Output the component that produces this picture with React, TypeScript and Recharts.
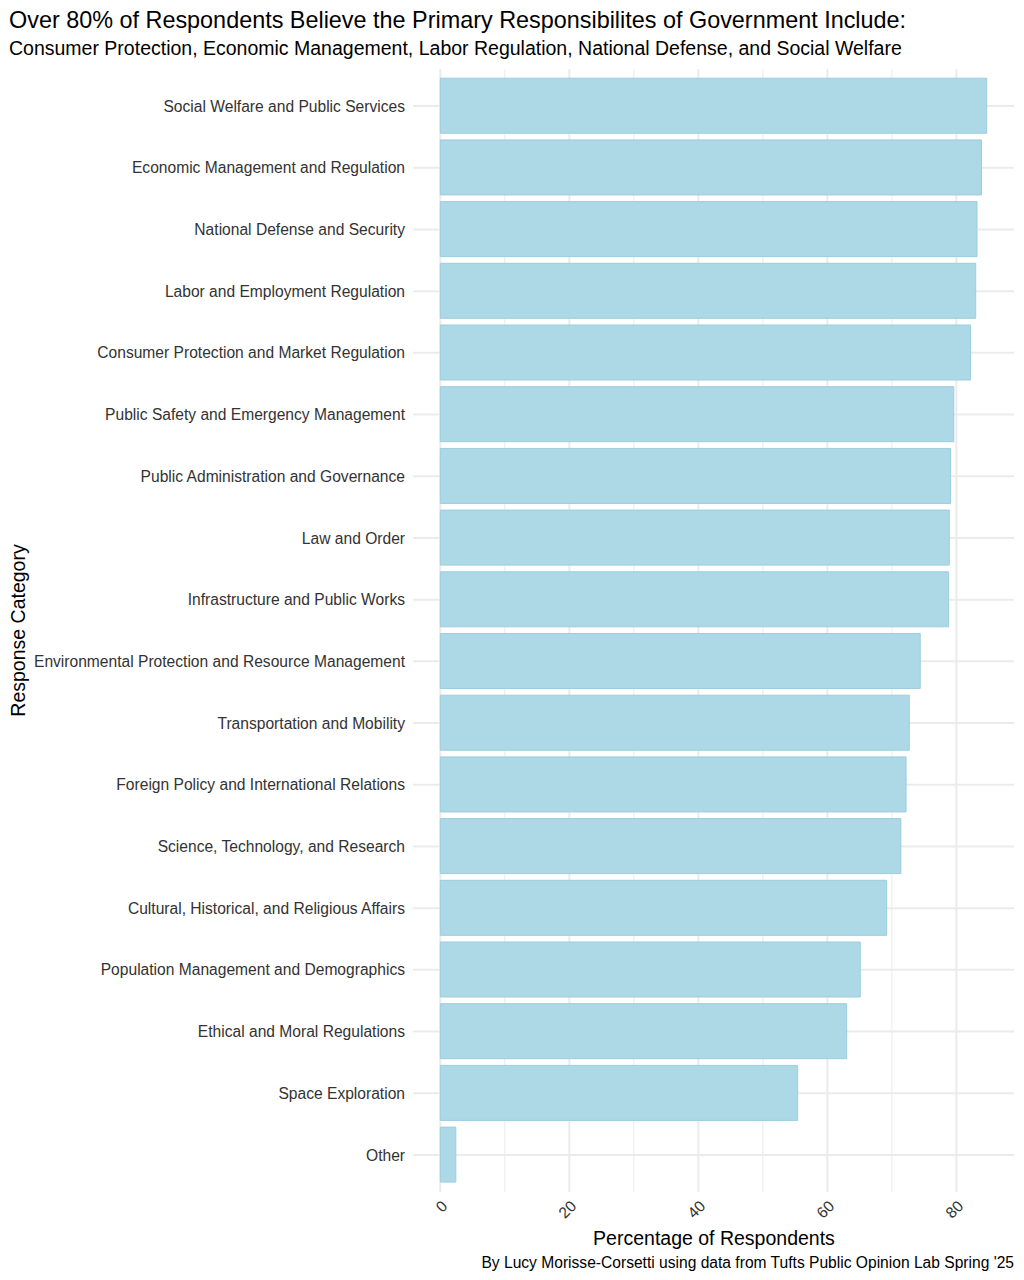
import React from "react";
import { BarChart, Bar, XAxis, YAxis, CartesianGrid } from "recharts";

const categories = [
  "Social Welfare and Public Services",
  "Economic Management and Regulation",
  "National Defense and Security",
  "Labor and Employment Regulation",
  "Consumer Protection and Market Regulation",
  "Public Safety and Emergency Management",
  "Public Administration and Governance",
  "Law and Order",
  "Infrastructure and Public Works",
  "Environmental Protection and Resource Management",
  "Transportation and Mobility",
  "Foreign Policy and International Relations",
  "Science, Technology, and Research",
  "Cultural, Historical, and Religious Affairs",
  "Population Management and Demographics",
  "Ethical and Moral Regulations",
  "Space Exploration",
  "Other",
];

const percentages = [
  84.7, 83.9, 83.2, 83.0, 82.2, 79.6, 79.1, 78.9, 78.8, 74.4, 72.7, 72.2, 71.4,
  69.2, 65.1, 63.0, 55.4, 2.4,
];

const majorTicks = [0, 20, 40, 60, 80];
const minorTicks = [10, 30, 50, 70];

const titleText =
  "Over 80% of Respondents Believe the Primary Responsibilites of Government Include:";
const subtitleText =
  "Consumer Protection, Economic Management, Labor Regulation, National Defense, and Social Welfare";
const xTitle = "Percentage of Respondents";
const yTitle = "Response Category";
const captionText =
  "By Lucy Morisse-Corsetti using data from Tufts Public Opinion Lab Spring '25";

const data = categories.map((c, i) => ({ category: c, value: percentages[i] }));

const maxVal = Math.max(...percentages);
const expand = maxVal * 0.05;
const domain: [number, number] = [-expand, maxVal + expand];

const FONT = '"Liberation Sans", Arial, Helvetica, sans-serif';
const W = 1016;
const H = 1272;

const YTick = (props: any) => {
  const { x, y, payload } = props;
  return (
    <text
      x={x}
      y={y}
      dy="0.36em"
      textAnchor="end"
      fill="#333333"
      fontSize={15.6}
      fontFamily={FONT}
    >
      {payload.value}
    </text>
  );
};

const XTick = (props: any) => {
  const { x, y, payload } = props;
  return (
    <g transform={`translate(${x + 8},${y + 7}) rotate(-45)`}>
      <text
        x={0}
        y={0}
        textAnchor="end"
        fill="#333333"
        fontSize={15.6}
        fontFamily={FONT}
      >
        {payload.value}
      </text>
    </g>
  );
};

export default function App() {
  return (
    <div style={{ position: "relative", width: W, height: H, fontFamily: FONT }}>
      <BarChart
        width={W}
        height={H}
        data={data}
        layout="vertical"
        margin={{ top: 61, right: 10, bottom: 28, left: 0 }}
      >
        <CartesianGrid
          xAxisId="minor"
          horizontal={false}
          vertical={true}
          syncWithTicks
          stroke="#ebebeb"
          strokeWidth={1}
        />
        <CartesianGrid
          horizontal={true}
          vertical={true}
          syncWithTicks
          stroke="#ebebeb"
          strokeWidth={2}
        />
        <XAxis
          type="number"
          domain={domain}
          ticks={majorTicks}
          allowDataOverflow
          axisLine={false}
          tickLine={false}
          tickSize={6}
          tickMargin={2}
          height={60}
          tick={<XTick />}
          interval={0}
        />
        <XAxis
          xAxisId="minor"
          type="number"
          domain={domain}
          ticks={minorTicks}
          allowDataOverflow
          hide
        />
        <YAxis
          type="category"
          dataKey="category"
          width={405}
          axisLine={false}
          tickLine={false}
          tickSize={6}
          tickMargin={2}
          padding={{ top: 6.2, bottom: 6.2 }}
          interval={0}
          tick={<YTick />}
        />
        <Bar
          dataKey="value"
          fill="#add8e6"
          stroke="#9ccde0"
          strokeWidth={1}
          barSize={55}
          isAnimationActive={false}
        />
      </BarChart>
      <svg
        width={W}
        height={H}
        style={{ position: "absolute", left: 0, top: 0, pointerEvents: "none" }}
      >
        <text x={1} y={20} fontSize={23.4} fill="#000" fontFamily={FONT}>
          {titleText}
        </text>
        <text x={1} y={47} fontSize={19.5} fill="#000" fontFamily={FONT}>
          {subtitleText}
        </text>
        <text
          x={706}
          y={1237}
          fontSize={19.5}
          fill="#000"
          textAnchor="middle"
          fontFamily={FONT}
        >
          {xTitle}
        </text>
        <text
          transform="translate(17,622.5) rotate(-90)"
          fontSize={19.5}
          fill="#000"
          textAnchor="middle"
          fontFamily={FONT}
        >
          {yTitle}
        </text>
        <text
          x={1006}
          y={1260}
          fontSize={15.6}
          fill="#000"
          textAnchor="end"
          fontFamily={FONT}
        >
          {captionText}
        </text>
      </svg>
    </div>
  );
}
